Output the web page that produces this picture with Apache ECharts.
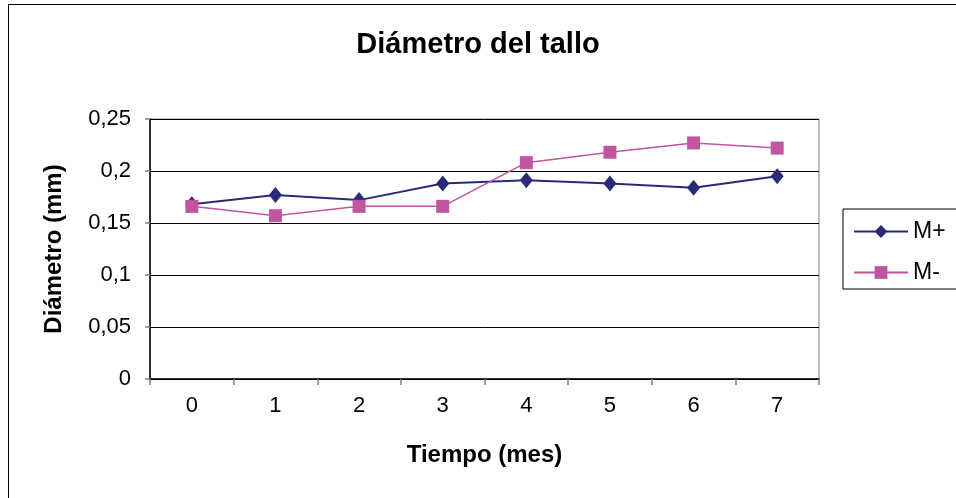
<!DOCTYPE html>
<html><head><meta charset="utf-8">
<script src="https://cdn.jsdelivr.net/npm/echarts@6/dist/echarts.min.js"></script>
<style>html,body{margin:0;padding:0;background:#fff}#c{width:956px;height:498px}</style>
</head><body><div id="c"></div>
<script>
const categories = ['0','1','2','3','4','5','6','7'];
const mPlus  = [0.168, 0.177, 0.172, 0.188, 0.191, 0.188, 0.184, 0.195];
const mMinus = [0.166, 0.157, 0.166, 0.166, 0.208, 0.218, 0.227, 0.222];
const yTickLabels = {'0':'0','0.05':'0,05','0.1':'0,1','0.15':'0,15','0.2':'0,2','0.25':'0,25'};

const font = 'Liberation Sans, Arial, sans-serif';
const chart = echarts.init(document.getElementById('c'), null, {renderer:'canvas'});
chart.setOption({
  animation:false,
  backgroundColor:'#fff',
  graphic:[{type:'rect', shape:{x:8.5,y:4.5,width:960,height:510}, style:{fill:'none',stroke:'#000',lineWidth:1}, silent:true}],
  title:{text:'Diámetro del tallo', left:'center', top:25, textStyle:{fontFamily:font,fontSize:29,fontWeight:'bold',color:'#000'}},
  legend:{
    orient:'vertical', left:843, top:209, width:200,
    padding:[11,60,5,10], itemGap:18, itemWidth:54, itemHeight:16,
    borderColor:'#000', borderWidth:1, borderRadius:0,
    textStyle:{fontFamily:font,fontSize:23,color:'#000',padding:[0,0,0,0]},
    data:['M+','M-']
  },
  grid:{left:150, right:137, top:119, bottom:119, show:true, borderColor:'#808080', borderWidth:1},
  xAxis:{
    type:'category', data:categories, boundaryGap:true,
    name:'Tiempo (mes)', nameLocation:'middle', nameGap:64,
    nameTextStyle:{fontFamily:font,fontSize:24,fontWeight:'bold',color:'#000'},
    axisLine:{lineStyle:{color:'#000',width:1.5}},
    axisTick:{show:true,interval:0,length:6,inside:false,lineStyle:{color:'#808080',width:1.5}},
    axisLabel:{fontFamily:font,fontSize:22,color:'#000',margin:16}
  },
  yAxis:{
    type:'value', min:0, max:0.25, interval:0.05,
    name:'Diámetro (mm)', nameLocation:'middle', nameGap:84, nameRotate:90,
    nameTextStyle:{fontFamily:font,fontSize:24,fontWeight:'bold',color:'#000'},
    axisLine:{show:true,lineStyle:{color:'#000',width:1.5}},
    axisTick:{show:true,length:5,lineStyle:{color:'#808080',width:1.5}},
    axisLabel:{fontFamily:font,fontSize:22,color:'#000',margin:19,
      formatter:v=>yTickLabels[String(+v.toFixed(2))] ?? String(v).replace('.',',')},
    splitLine:{show:true,lineStyle:{color:'#000',width:1}}
  },
  series:[
    {name:'M+', type:'line', data:mPlus, symbol:'diamond', symbolSize:[13,16],
     itemStyle:{color:'#2A2A78'}, lineStyle:{color:'#2A2A78',width:2}},
    {name:'M-', type:'line', data:mMinus, symbol:'rect', symbolSize:13,
     itemStyle:{color:'#C055A0'}, lineStyle:{color:'#C055A0',width:1.5}}
  ]
});
</script></body></html>
